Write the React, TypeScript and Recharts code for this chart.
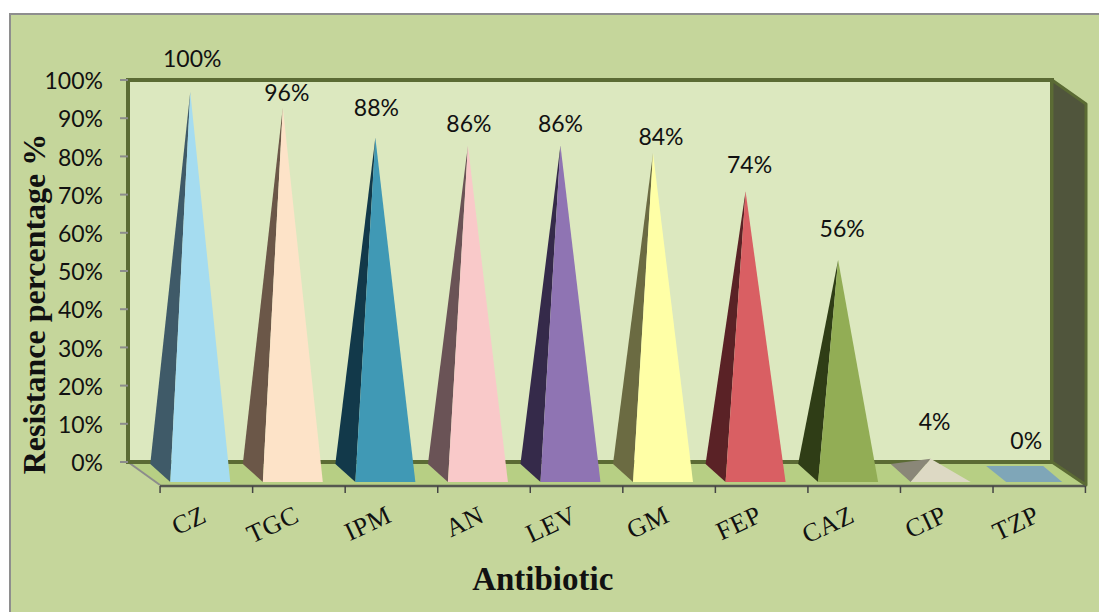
import React from "react";
import { BarChart, Bar, XAxis, YAxis, LabelList, usePlotArea } from "recharts";

const categories = ["CZ", "TGC", "IPM", "AN", "LEV", "GM", "FEP", "CAZ", "CIP", "TZP"];
const resistance = [100, 96, 88, 86, 86, 84, 74, 56, 4, 0];
const frontColors = ["#a5dcf0", "#fde3c8", "#4099b5", "#f9c9c9", "#8f74b3", "#ffffa6", "#d95f63", "#92ad55", "#ddd9c4", "#7fa6b8"];
const sideColors = ["#3f5a68", "#6b5748", "#12394a", "#6a5356", "#352a4a", "#6b6b42", "#5a2226", "#2f3d16", "#8a8778", "#7fa6b8"];
const yTicks = [0, 10, 20, 30, 40, 50, 60, 70, 80, 90, 100];
// hand placed label nudges of the original (dx from band centre, dy from the value level)
const labelDx = [18, 20, 17, 17, 16, 24, 20, 20, 20, 19];
const labelDy = [-22, -3, -19, -10, -10, -5, -15, -20, -26, -22];

const rows = categories.map((name, i) => ({ name, value: resistance[i] }));
const FRAME = "#5b6b34";
const LABEL_FONT = "Lato, sans-serif";
const TITLE_FONT = "'Liberation Serif', serif";

function Walls() {
  const p = usePlotArea();
  if (!p) return null;
  const l = p.x, t = p.y, r = p.x + p.width - 1.5, b = p.y + p.height;
  return (
    <g>
      <polygon points={`${l},${b} ${r},${b} ${r + 33},${b + 23} ${l + 32},${b + 23}`} fill="#b7cf84" />
      <line x1={l} y1={b} x2={l + 32} y2={b + 23} stroke="#8c8c8c" strokeWidth={2} />
      <rect x={l} y={t} width={r - l} height={b - t} fill="#dce8bf" stroke={FRAME} strokeWidth={4} />
      <polygon points={`${r},${t} ${r + 34},${t + 24} ${r + 34},${b + 23} ${r},${b}`} fill="#50553c" stroke={FRAME} strokeWidth={3} strokeLinejoin="round" />
      <line x1={l + 32} y1={b + 24} x2={r + 33} y2={b + 24} stroke="#55584f" strokeWidth={2.5} />
    </g>
  );
}

function Pyramid(props: any) {
  const { x, y, width, height, index } = props;
  const cx = x + width / 2;
  const base = y + height;
  const front = base + 20;
  const back = base + 2;
  if (resistance[index] === 0) {
    return (
      <polygon
        points={`${cx - 21},${back + 2} ${cx + 36},${back + 2} ${cx + 55},${front} ${cx - 1},${front}`}
        fill={frontColors[index]}
      />
    );
  }
  const apex = `${cx + 16},${y + 12}`;
  return (
    <g>
      <polygon points={`${apex} ${cx - 24},${back} ${cx - 4},${front}`} fill={sideColors[index]} />
      <polygon points={`${apex} ${cx - 4},${front} ${cx + 56},${front}`} fill={frontColors[index]} />
    </g>
  );
}

function ValueLabel(props: any) {
  const { x, y, width, height, index, value } = props;
  const top = height < 0 ? y + height : y;
  return (
    <text
      x={x + width / 2 + labelDx[index]}
      y={top + labelDy[index]}
      textAnchor="middle"
      dominantBaseline="central"
      fontFamily={LABEL_FONT}
      fontSize={23}
      fill="#111"
    >
      {`${value}%`}
    </text>
  );
}

function CategoryTick(props: any) {
  const { x, y, payload, index } = props;
  const left = x - 14.2;
  const last = index === categories.length - 1;
  return (
    <g>
      <line x1={left} y1={y + 24} x2={left} y2={y + 31} stroke="#444" strokeWidth={1.5} />
      {last && <line x1={x + 78.2} y1={y + 24} x2={x + 78.2} y2={y + 31} stroke="#444" strokeWidth={1.5} />}
      <text
        transform={`translate(${x + 34},${y + 59}) rotate(-25)`}
        textAnchor="end"
        fontFamily={TITLE_FONT}
        fontSize={26}
        letterSpacing={0.6}
        fill="#111"
      >
        {payload.value}
      </text>
    </g>
  );
}

export default function App() {
  return (
    <div style={{ position: "absolute", left: 0, top: 0, width: 1099, height: 612, background: "#fff", overflow: "hidden" }}>
      <div
        style={{
          position: "absolute", left: 9, top: 13, right: 0, bottom: 0,
          background: "#c5d69b", borderLeft: "2px solid #8e8e8e", borderTop: "2px solid #8e8e8e",
        }}
      />
      <div style={{ position: "absolute", left: 0, top: 0 }}>
        <BarChart width={1099} height={612} data={rows} margin={{ top: 80, right: 45.5, bottom: 0, left: 0 }} barCategoryGap="30%">
          <Walls />
          <XAxis
            dataKey="name"
            height={150}
            axisLine={false}
            tickLine={false}
            tickSize={0}
            tickMargin={0}
            interval={0}
            tick={<CategoryTick />}
            label={{ value: "Antibiotic", position: "insideBottom", offset: 22, dx: -48, fontFamily: TITLE_FONT, fontWeight: 700, fontSize: 33, fill: "#111" }}
          />
          <YAxis
            width={128}
            domain={[0, 100]}
            ticks={yTicks}
            interval={0}
            axisLine={false}
            tickLine={{ stroke: "#8c8c8c", strokeWidth: 2 }}
            tickSize={8}
            tickMargin={17}
            dy={1}
            tickFormatter={(v: number) => `${v}%`}
            tick={{ fontFamily: LABEL_FONT, fontSize: 23, fill: "#111" }}
            label={{ value: "Resistance percentage %", angle: -90, position: "insideLeft", offset: 34, dy: 33, fontFamily: TITLE_FONT, fontWeight: 700, fontSize: 32, fill: "#111", style: { textAnchor: "middle" } }}
          />
          <Bar dataKey="value" shape={<Pyramid />} isAnimationActive={false}>
            <LabelList dataKey="value" content={<ValueLabel />} />
          </Bar>
        </BarChart>
      </div>
    </div>
  );
}
